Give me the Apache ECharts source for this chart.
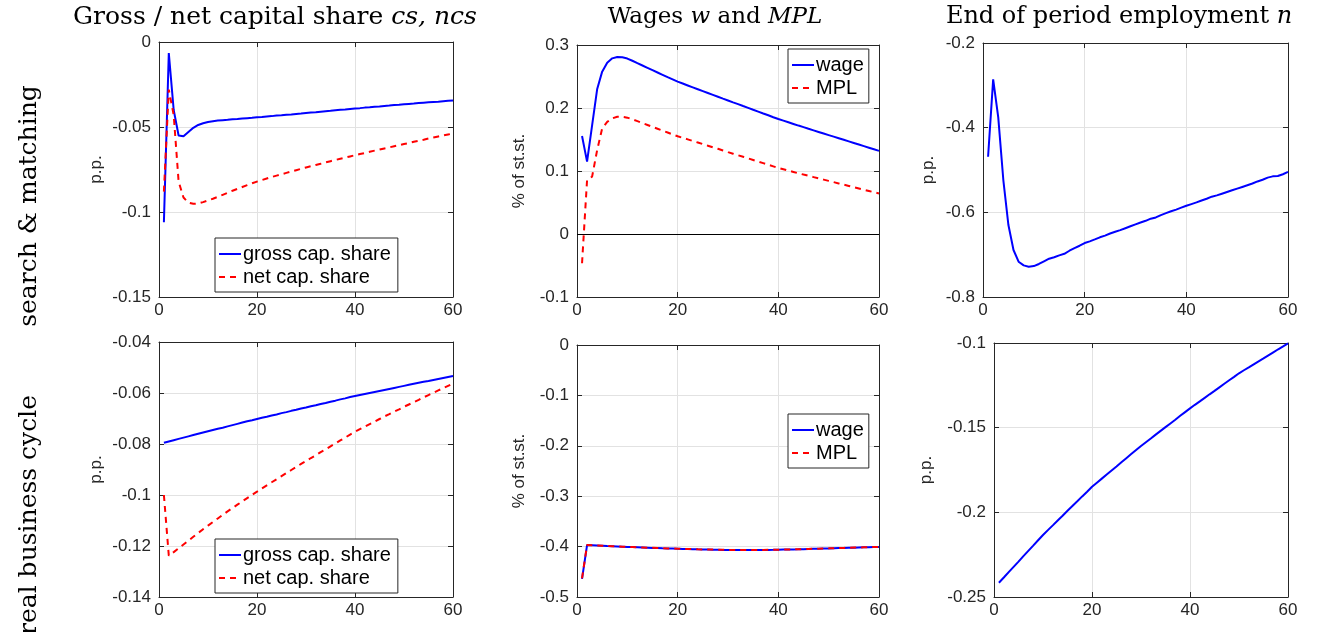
<!DOCTYPE html>
<html>
<head>
<meta charset="utf-8">
<script src="https://cdn.jsdelivr.net/npm/echarts@6/dist/echarts.min.js"></script>
<style>html,body{margin:0;padding:0;background:#fff}#c{width:1317px;height:632px}</style>
</head>
<body>
<div id="c"></div>
<script>
const periods = [1,2,3,4,5,6,7,8,9,10,11,12,13,14,15,16,17,18,19,20,21,22,23,24,25,26,27,28,29,30,31,32,33,34,35,36,37,38,39,40,41,42,43,44,45,46,47,48,49,50,51,52,53,54,55,56,57,58,59,60];

// search & matching
const smGrossCapShare = [-0.1060,-0.0065,-0.0400,-0.0550,-0.0555,-0.0530,-0.0505,-0.0488,-0.0478,-0.0471,-0.0466,-0.0462,-0.0460,-0.0458,-0.0455,-0.0453,-0.0450,-0.0448,-0.0446,-0.0443,-0.0441,-0.0438,-0.0436,-0.0433,-0.0431,-0.0428,-0.0426,-0.0423,-0.0421,-0.0418,-0.0415,-0.0413,-0.0410,-0.0407,-0.0405,-0.0402,-0.0399,-0.0397,-0.0394,-0.0391,-0.0389,-0.0386,-0.0384,-0.0381,-0.0379,-0.0376,-0.0374,-0.0371,-0.0369,-0.0366,-0.0364,-0.0362,-0.0359,-0.0357,-0.0355,-0.0353,-0.0351,-0.0348,-0.0346,-0.0344];
const smNetCapShare = [-0.0880,-0.0280,-0.0430,-0.0820,-0.0915,-0.0945,-0.0952,-0.0950,-0.0942,-0.0932,-0.0922,-0.0911,-0.0899,-0.0887,-0.0875,-0.0864,-0.0853,-0.0842,-0.0831,-0.0821,-0.0812,-0.0803,-0.0794,-0.0786,-0.0778,-0.0770,-0.0762,-0.0754,-0.0746,-0.0738,-0.0731,-0.0723,-0.0716,-0.0708,-0.0701,-0.0694,-0.0687,-0.0680,-0.0673,-0.0666,-0.0659,-0.0653,-0.0646,-0.0639,-0.0633,-0.0626,-0.0620,-0.0613,-0.0607,-0.0600,-0.0594,-0.0587,-0.0581,-0.0575,-0.0568,-0.0562,-0.0556,-0.0550,-0.0544,-0.0538];
const smWage = [0.1556,0.1148,0.1725,0.2297,0.2577,0.2720,0.2788,0.2810,0.2805,0.2785,0.2750,0.2712,0.2675,0.2638,0.2601,0.2564,0.2527,0.2490,0.2454,0.2418,0.2388,0.2358,0.2328,0.2298,0.2268,0.2238,0.2208,0.2178,0.2148,0.2120,0.2090,0.2061,0.2031,0.2002,0.1972,0.1943,0.1913,0.1884,0.1854,0.1825,0.1799,0.1773,0.1747,0.1721,0.1696,0.1670,0.1645,0.1620,0.1595,0.1570,0.1545,0.1520,0.1495,0.1470,0.1445,0.1420,0.1395,0.1370,0.1345,0.1320];
const smMPL = [-0.0465,0.0857,0.0910,0.1330,0.1677,0.1780,0.1836,0.1862,0.1860,0.1847,0.1820,0.1791,0.1761,0.1731,0.1701,0.1671,0.1641,0.1611,0.1581,0.1552,0.1527,0.1502,0.1477,0.1452,0.1427,0.1402,0.1377,0.1352,0.1326,0.1300,0.1275,0.1250,0.1225,0.1200,0.1175,0.1150,0.1125,0.1100,0.1074,0.1048,0.1027,0.1006,0.0985,0.0964,0.0943,0.0923,0.0903,0.0883,0.0863,0.0843,0.0823,0.0803,0.0783,0.0763,0.0743,0.0723,0.0703,0.0683,0.0663,0.0643];
const smEmployment = [-0.4686,-0.2858,-0.3756,-0.5237,-0.6300,-0.6890,-0.7166,-0.7253,-0.7284,-0.7270,-0.7220,-0.7157,-0.7095,-0.7060,-0.7016,-0.6980,-0.6907,-0.6844,-0.6789,-0.6725,-0.6685,-0.6640,-0.6590,-0.6550,-0.6500,-0.6460,-0.6420,-0.6375,-0.6330,-0.6285,-0.6240,-0.6200,-0.6150,-0.6120,-0.6065,-0.6020,-0.5975,-0.5935,-0.5890,-0.5845,-0.5805,-0.5765,-0.5720,-0.5680,-0.5630,-0.5600,-0.5560,-0.5520,-0.5480,-0.5440,-0.5400,-0.5360,-0.5320,-0.5270,-0.5230,-0.5180,-0.5150,-0.5140,-0.5100,-0.5045];

// real business cycle
const rbcGrossCapShare = [-0.0795,-0.0790,-0.0785,-0.0780,-0.0775,-0.0770,-0.0765,-0.0760,-0.0755,-0.0750,-0.0745,-0.0740,-0.0736,-0.0731,-0.0726,-0.0721,-0.0716,-0.0711,-0.0707,-0.0702,-0.0697,-0.0693,-0.0688,-0.0684,-0.0679,-0.0675,-0.0670,-0.0666,-0.0661,-0.0657,-0.0652,-0.0648,-0.0643,-0.0639,-0.0634,-0.0630,-0.0625,-0.0621,-0.0616,-0.0612,-0.0608,-0.0604,-0.0600,-0.0596,-0.0592,-0.0588,-0.0584,-0.0580,-0.0576,-0.0572,-0.0568,-0.0564,-0.0560,-0.0556,-0.0553,-0.0549,-0.0545,-0.0541,-0.0537,-0.0533];
const rbcNetCapShare = [-0.1000,-0.1238,-0.1224,-0.1209,-0.1194,-0.1179,-0.1164,-0.1149,-0.1134,-0.1120,-0.1106,-0.1092,-0.1078,-0.1064,-0.1051,-0.1038,-0.1025,-0.1012,-0.0999,-0.0987,-0.0974,-0.0962,-0.0950,-0.0938,-0.0926,-0.0914,-0.0902,-0.0890,-0.0878,-0.0867,-0.0855,-0.0844,-0.0832,-0.0821,-0.0809,-0.0798,-0.0786,-0.0775,-0.0763,-0.0752,-0.0742,-0.0732,-0.0722,-0.0712,-0.0702,-0.0692,-0.0683,-0.0673,-0.0664,-0.0654,-0.0645,-0.0636,-0.0627,-0.0617,-0.0608,-0.0599,-0.0590,-0.0581,-0.0572,-0.0563];
const rbcWage = [-0.4640,-0.3970,-0.3975,-0.3980,-0.3985,-0.3990,-0.3994,-0.3998,-0.4002,-0.4006,-0.4010,-0.4014,-0.4018,-0.4022,-0.4026,-0.4030,-0.4034,-0.4037,-0.4040,-0.4043,-0.4046,-0.4049,-0.4052,-0.4055,-0.4057,-0.4059,-0.4061,-0.4063,-0.4065,-0.4066,-0.4067,-0.4068,-0.4068,-0.4068,-0.4068,-0.4067,-0.4066,-0.4065,-0.4064,-0.4062,-0.4060,-0.4058,-0.4056,-0.4054,-0.4051,-0.4048,-0.4045,-0.4042,-0.4039,-0.4036,-0.4033,-0.4030,-0.4027,-0.4024,-0.4021,-0.4018,-0.4015,-0.4012,-0.4009,-0.4006];
const rbcMPL = [-0.4630,-0.3968,-0.3974,-0.3979,-0.3984,-0.3989,-0.3993,-0.3997,-0.4001,-0.4005,-0.4009,-0.4013,-0.4017,-0.4021,-0.4025,-0.4029,-0.4033,-0.4036,-0.4039,-0.4042,-0.4045,-0.4048,-0.4051,-0.4054,-0.4056,-0.4058,-0.4060,-0.4062,-0.4064,-0.4065,-0.4066,-0.4067,-0.4067,-0.4067,-0.4067,-0.4066,-0.4065,-0.4064,-0.4063,-0.4061,-0.4059,-0.4057,-0.4055,-0.4053,-0.4050,-0.4047,-0.4044,-0.4041,-0.4038,-0.4035,-0.4032,-0.4029,-0.4026,-0.4023,-0.4020,-0.4017,-0.4014,-0.4011,-0.4008,-0.4005];
const rbcEmployment = [-0.2416,-0.2385,-0.2353,-0.2322,-0.2291,-0.2259,-0.2228,-0.2197,-0.2165,-0.2134,-0.2105,-0.2077,-0.2048,-0.2020,-0.1991,-0.1963,-0.1935,-0.1906,-0.1878,-0.1849,-0.1825,-0.1801,-0.1777,-0.1753,-0.1729,-0.1704,-0.1680,-0.1656,-0.1632,-0.1608,-0.1586,-0.1564,-0.1541,-0.1519,-0.1497,-0.1475,-0.1453,-0.1430,-0.1408,-0.1386,-0.1365,-0.1345,-0.1324,-0.1303,-0.1283,-0.1262,-0.1241,-0.1220,-0.1200,-0.1179,-0.1161,-0.1144,-0.1126,-0.1108,-0.1091,-0.1073,-0.1055,-0.1037,-0.1020,-0.1002];

const xTicks = {min: 0, max: 60, interval: 20};
const yTicks = [
  {min: -0.15, max: 0, interval: 0.05},
  {min: -0.1, max: 0.3, interval: 0.1},
  {min: -0.8, max: -0.2, interval: 0.2},
  {min: -0.14, max: -0.04, interval: 0.02},
  {min: -0.5, max: 0, interval: 0.1},
  {min: -0.25, max: -0.1, interval: 0.05}
];
const yNames = ['p.p.', '% of st.st.', 'p.p.', 'p.p.', '% of st.st.', 'p.p.'];
const titles = ['Gross / net capital share {i|cs, ncs}', 'Wages {i|w} and {i|MPL}', 'End of period employment {i|n}'];
const rowLabels = ['search & matching', 'real business cycle'];
const legendCap = ['gross cap. share', 'net cap. share'];
const legendWage = ['wage', 'MPL'];

const layout = [
  {left: 159, top: 42, width: 294, height: 255, gap: 54},
  {left: 577, top: 45, width: 302, height: 252, gap: 49},
  {left: 983, top: 43, width: 305, height: 254, gap: 46},
  {left: 159, top: 342, width: 294, height: 255, gap: 54},
  {left: 577, top: 345, width: 302, height: 252, gap: 49},
  {left: 994, top: 343, width: 294, height: 254, gap: 59}
];

const AX = '#262626';
const SANS = 'Liberation Sans';
const SERIF = 'DejaVu Serif';
const lbl = {color: AX, fontSize: 17, fontFamily: SANS};

const grids = [], xAxes = [], yAxes = [];
layout.forEach((g, i) => {
  grids.push({left: g.left, top: g.top, width: g.width, height: g.height, containLabel: false});
  xAxes.push({type: 'value', gridIndex: i, min: xTicks.min, max: xTicks.max, interval: xTicks.interval,
    axisLine: {show: true, onZero: false, lineStyle: {color: AX, width: 1}},
    axisTick: {show: true, inside: true, length: 5, lineStyle: {color: AX}},
    axisLabel: Object.assign({margin: 5}, lbl),
    splitLine: {show: true, lineStyle: {color: '#e2e2e2', width: 1}}});
  xAxes.push({type: 'value', gridIndex: i, position: 'top', min: xTicks.min, max: xTicks.max, interval: xTicks.interval,
    axisLine: {show: true, onZero: false, lineStyle: {color: AX, width: 1}},
    axisTick: {show: true, inside: true, length: 5, lineStyle: {color: AX}},
    axisLabel: {show: false}, splitLine: {show: false}});
  const yt = yTicks[i];
  yAxes.push({type: 'value', gridIndex: i, min: yt.min, max: yt.max, interval: yt.interval,
    name: yNames[i], nameLocation: 'middle', nameGap: g.gap, nameTextStyle: {color: AX, fontSize: 17, fontFamily: SANS},
    axisLine: {show: true, onZero: false, lineStyle: {color: AX, width: 1}},
    axisTick: {show: true, inside: true, length: 5, lineStyle: {color: AX}},
    axisLabel: Object.assign({margin: 8}, lbl),
    splitLine: {show: true, lineStyle: {color: '#e2e2e2', width: 1}}});
  yAxes.push({type: 'value', gridIndex: i, position: 'right', min: yt.min, max: yt.max, interval: yt.interval,
    axisLine: {show: true, onZero: false, lineStyle: {color: AX, width: 1}},
    axisTick: {show: true, inside: true, length: 5, lineStyle: {color: AX}},
    axisLabel: {show: false}, splitLine: {show: false}});
});

function pairs(ys) { return periods.map((t, k) => [t, ys[k]]); }
function line(name, ys, panel, dashed, extra) {
  return Object.assign({
    type: 'line', name: name, xAxisIndex: 2 * panel, yAxisIndex: 2 * panel,
    data: pairs(ys), showSymbol: false, symbol: 'none', animation: false, z: dashed ? 4 : 3,
    lineStyle: {color: dashed ? '#ff0000' : '#0000ff', width: 2, type: dashed ? [6, 5] : 'solid'},
    itemStyle: {color: dashed ? '#ff0000' : '#0000ff'}
  }, extra || {});
}

const series = [
  line(legendCap[0], smGrossCapShare, 0, false),
  line(legendCap[1], smNetCapShare, 0, true),
  line(legendWage[0], smWage, 1, false, {markLine: {silent: true, symbol: 'none', animation: false,
    label: {show: false}, lineStyle: {color: '#000000', type: 'solid', width: 1}, data: [{yAxis: 0}]}}),
  line(legendWage[1], smMPL, 1, true),
  line('employment sm', smEmployment, 2, false),
  line(legendCap[0], rbcGrossCapShare, 3, false),
  line(legendCap[1], rbcNetCapShare, 3, true),
  line(legendWage[0], rbcWage, 4, false),
  line(legendWage[1], rbcMPL, 4, true),
  line('employment rbc', rbcEmployment, 5, false)
];

function legend(names, left, top, rightPad) {
  return {data: names, left: left, top: top, orient: 'vertical', itemGap: 3, itemWidth: 22, itemHeight: 14,
    padding: [6, rightPad, 5, 3], borderColor: AX, borderWidth: 1, backgroundColor: '#ffffff', selectedMode: false,
    itemStyle: {opacity: 0, borderWidth: 0},
    textStyle: {color: '#000', fontSize: 20, fontFamily: SANS, padding: [0, 0, 0, -3]}};
}

const titleX = [275, 715, 1119];
const titleSize = [25, 23, 24];
const graphics = [];
titles.forEach((t, i) => {
  graphics.push({type: 'text', x: titleX[i], y: 17, style: {text: t, align: 'center', verticalAlign: 'middle',
    fill: '#000', font: titleSize[i] + 'px "' + SERIF + '"',
    rich: {i: {fontStyle: 'italic', fontSize: titleSize[i], fontFamily: SERIF, fill: '#000'}}}});
});
const rowY = [206, 515];
rowLabels.forEach((t, i) => {
  graphics.push({type: 'text', x: 29, y: rowY[i], rotation: Math.PI / 2,
    style: {text: t, align: 'center', verticalAlign: 'middle', fill: '#000', font: '25px "' + SERIF + '"'}});
});

const chart = echarts.init(document.getElementById('c'), null, {renderer: 'canvas'});
chart.setOption({
  animation: false,
  backgroundColor: '#ffffff',
  grid: grids, xAxis: xAxes, yAxis: yAxes, series: series,
  legend: [legend(legendCap, 215, 238, 7), legend(legendWage, 788, 49, 5), legend(legendCap, 215, 539, 7), legend(legendWage, 788, 414, 5)],
  graphic: graphics
});
</script>
</body>
</html>
